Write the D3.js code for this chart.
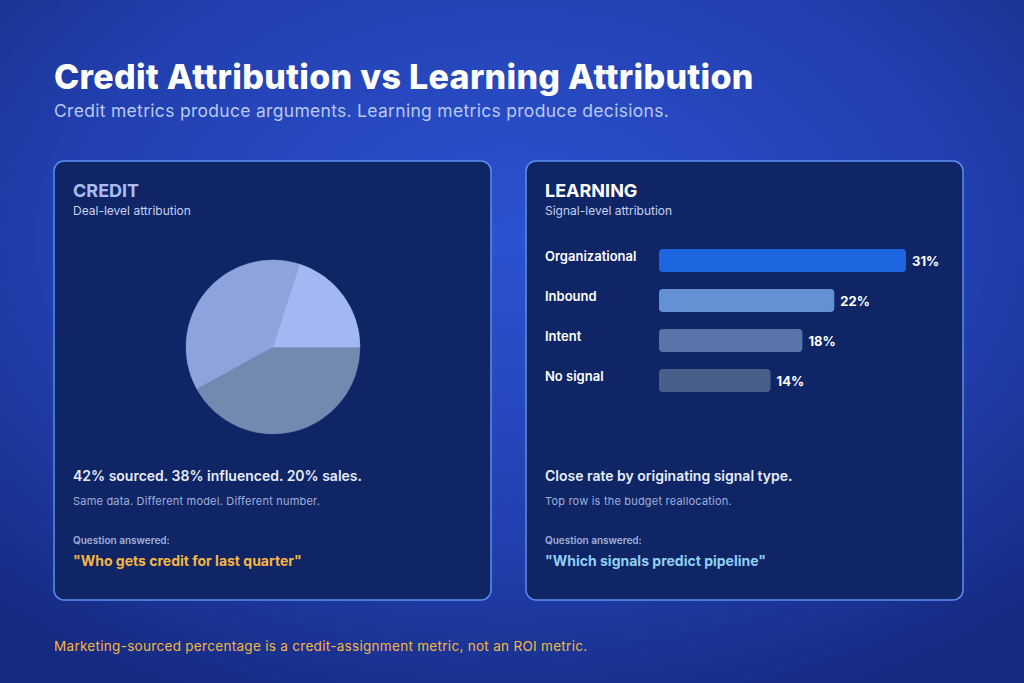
<!DOCTYPE html>
<html><head><meta charset="utf-8">
<script src="https://cdn.jsdelivr.net/npm/d3@7"></script>
<style>body{margin:0;background:#1a38a0}svg{display:block;font-family:Inter,"Noto Sans",sans-serif}</style>
</head><body><svg id="c"></svg>
<script>
const width = 1024, height = 683;

// credit pie
const pieLabels = ['sourced', 'influenced', 'sales'];
const pieValues = [42, 38, 20];
const pieColors = ['#7489b0', '#8ea3dc', '#a3b8f2'];

// learning bars
const barLabels = ['Organizational', 'Inbound', 'Intent', 'No signal'];
const barValues = [31, 22, 18, 14];
const barColors = ['#1e66e0', '#6490d4', '#5874a8', '#4a5e8a'];

const svg = d3.select('#c').attr('width', width).attr('height', height);
const defs = svg.append('defs');
const grad = defs.append('radialGradient').attr('id', 'bg')
  .attr('cx', '50%').attr('cy', '35%').attr('r', '75%');
grad.append('stop').attr('offset', '0%').attr('stop-color', '#2d52d0');
grad.append('stop').attr('offset', '60%').attr('stop-color', '#213fae');
grad.append('stop').attr('offset', '100%').attr('stop-color', '#152a80');
svg.append('rect').attr('width', width).attr('height', height).attr('fill', 'url(#bg)');

svg.append('text').attr('x', 54).attr('y', 89).attr('fill', '#fff')
  .style('font-size', '34px').style('font-weight', 800).style('letter-spacing', '0.3px')
  .text('Credit Attribution vs Learning Attribution');
svg.append('text').attr('x', 54).attr('y', 117).attr('fill', '#b9c9f2')
  .style('font-size', '17.5px').style('letter-spacing', '0.3px')
  .text('Credit metrics produce arguments. Learning metrics produce decisions.');

const panels = [
  {x: 54, title: 'CREDIT', titleColor: '#a9bdf2', sub: 'Deal-level attribution',
   main: '42% sourced. 38% influenced. 20% sales.', note: 'Same data. Different model. Different number.',
   quote: '"Who gets credit for last quarter"', quoteColor: '#f5b642'},
  {x: 526, title: 'LEARNING', titleColor: '#ffffff', sub: 'Signal-level attribution',
   main: 'Close rate by originating signal type.', note: 'Top row is the budget reallocation.',
   quote: '"Which signals predict pipeline"', quoteColor: '#8fd0f5'}
];
panels.forEach(p => {
  const g = svg.append('g').attr('transform', `translate(${p.x},161)`);
  g.append('rect').attr('width', 437).attr('height', 439).attr('rx', 10)
    .attr('fill', '#0f2566').attr('stroke', '#5b8ff0').attr('stroke-width', 1.5);
  g.append('text').attr('x', 19).attr('y', 36).attr('fill', p.titleColor)
    .style('font-size', '18px').style('font-weight', 700).text(p.title);
  g.append('text').attr('x', 19).attr('y', 54).attr('fill', '#c5d2f2')
    .style('font-size', '12px').text(p.sub);
  g.append('text').attr('x', 19).attr('y', 320).attr('fill', '#e6ecfa')
    .style('font-size', '14px').style('font-weight', 600).text(p.main);
  g.append('text').attr('x', 19).attr('y', 344).attr('fill', '#9fb0d8')
    .style('font-size', '11px').style('letter-spacing', '0.2px').text(p.note);
  g.append('text').attr('x', 19).attr('y', 383).attr('fill', '#9fb0d8')
    .style('font-size', '10px').style('font-weight', 600).text('Question answered:');
  g.append('text').attr('x', 19).attr('y', 405).attr('fill', p.quoteColor)
    .style('font-size', '14px').style('font-weight', 700).text(p.quote);
});

// pie
const pie = d3.pie().sort(null).startAngle(Math.PI / 2).endAngle(Math.PI / 2 + 2 * Math.PI);
const arc = d3.arc().innerRadius(0).outerRadius(87);
svg.append('g').attr('transform', 'translate(273,347)')
  .selectAll('path').data(pie(pieValues)).join('path')
  .attr('d', arc).attr('fill', (d, i) => pieColors[i])
  .attr('stroke', (d, i) => pieColors[i]).attr('stroke-width', 0.5);

// bars
const x = d3.scaleLinear().domain([0, 31]).range([0, 247]);
const y = d3.scaleBand().domain(barLabels).range([249, 392]).paddingInner(0.425).paddingOuter(0);
const bg = svg.append('g');
bg.selectAll('rect').data(barLabels).join('rect')
  .attr('x', 659).attr('y', d => y(d)).attr('height', y.bandwidth())
  .attr('width', (d, i) => x(barValues[i])).attr('rx', 4)
  .attr('fill', (d, i) => barColors[i]);
bg.selectAll('text.lab').data(barLabels).join('text').attr('class', 'lab')
  .attr('x', 545).attr('y', d => y(d) + 12).attr('fill', '#fff')
  .style('font-size', '13px').style('font-weight', 600).text(d => d);
bg.selectAll('text.val').data(barLabels).join('text').attr('class', 'val')
  .attr('x', (d, i) => 659 + x(barValues[i]) + 6).attr('y', d => y(d) + 17).attr('fill', '#fff')
  .style('font-size', '13px').style('font-weight', 700).text((d, i) => barValues[i] + '%');

svg.append('text').attr('x', 54).attr('y', 651).attr('fill', '#f5b642')
  .style('font-size', '13.5px').style('letter-spacing', '0.3px')
  .text('Marketing-sourced percentage is a credit-assignment metric, not an ROI metric.');
</script></body></html>
